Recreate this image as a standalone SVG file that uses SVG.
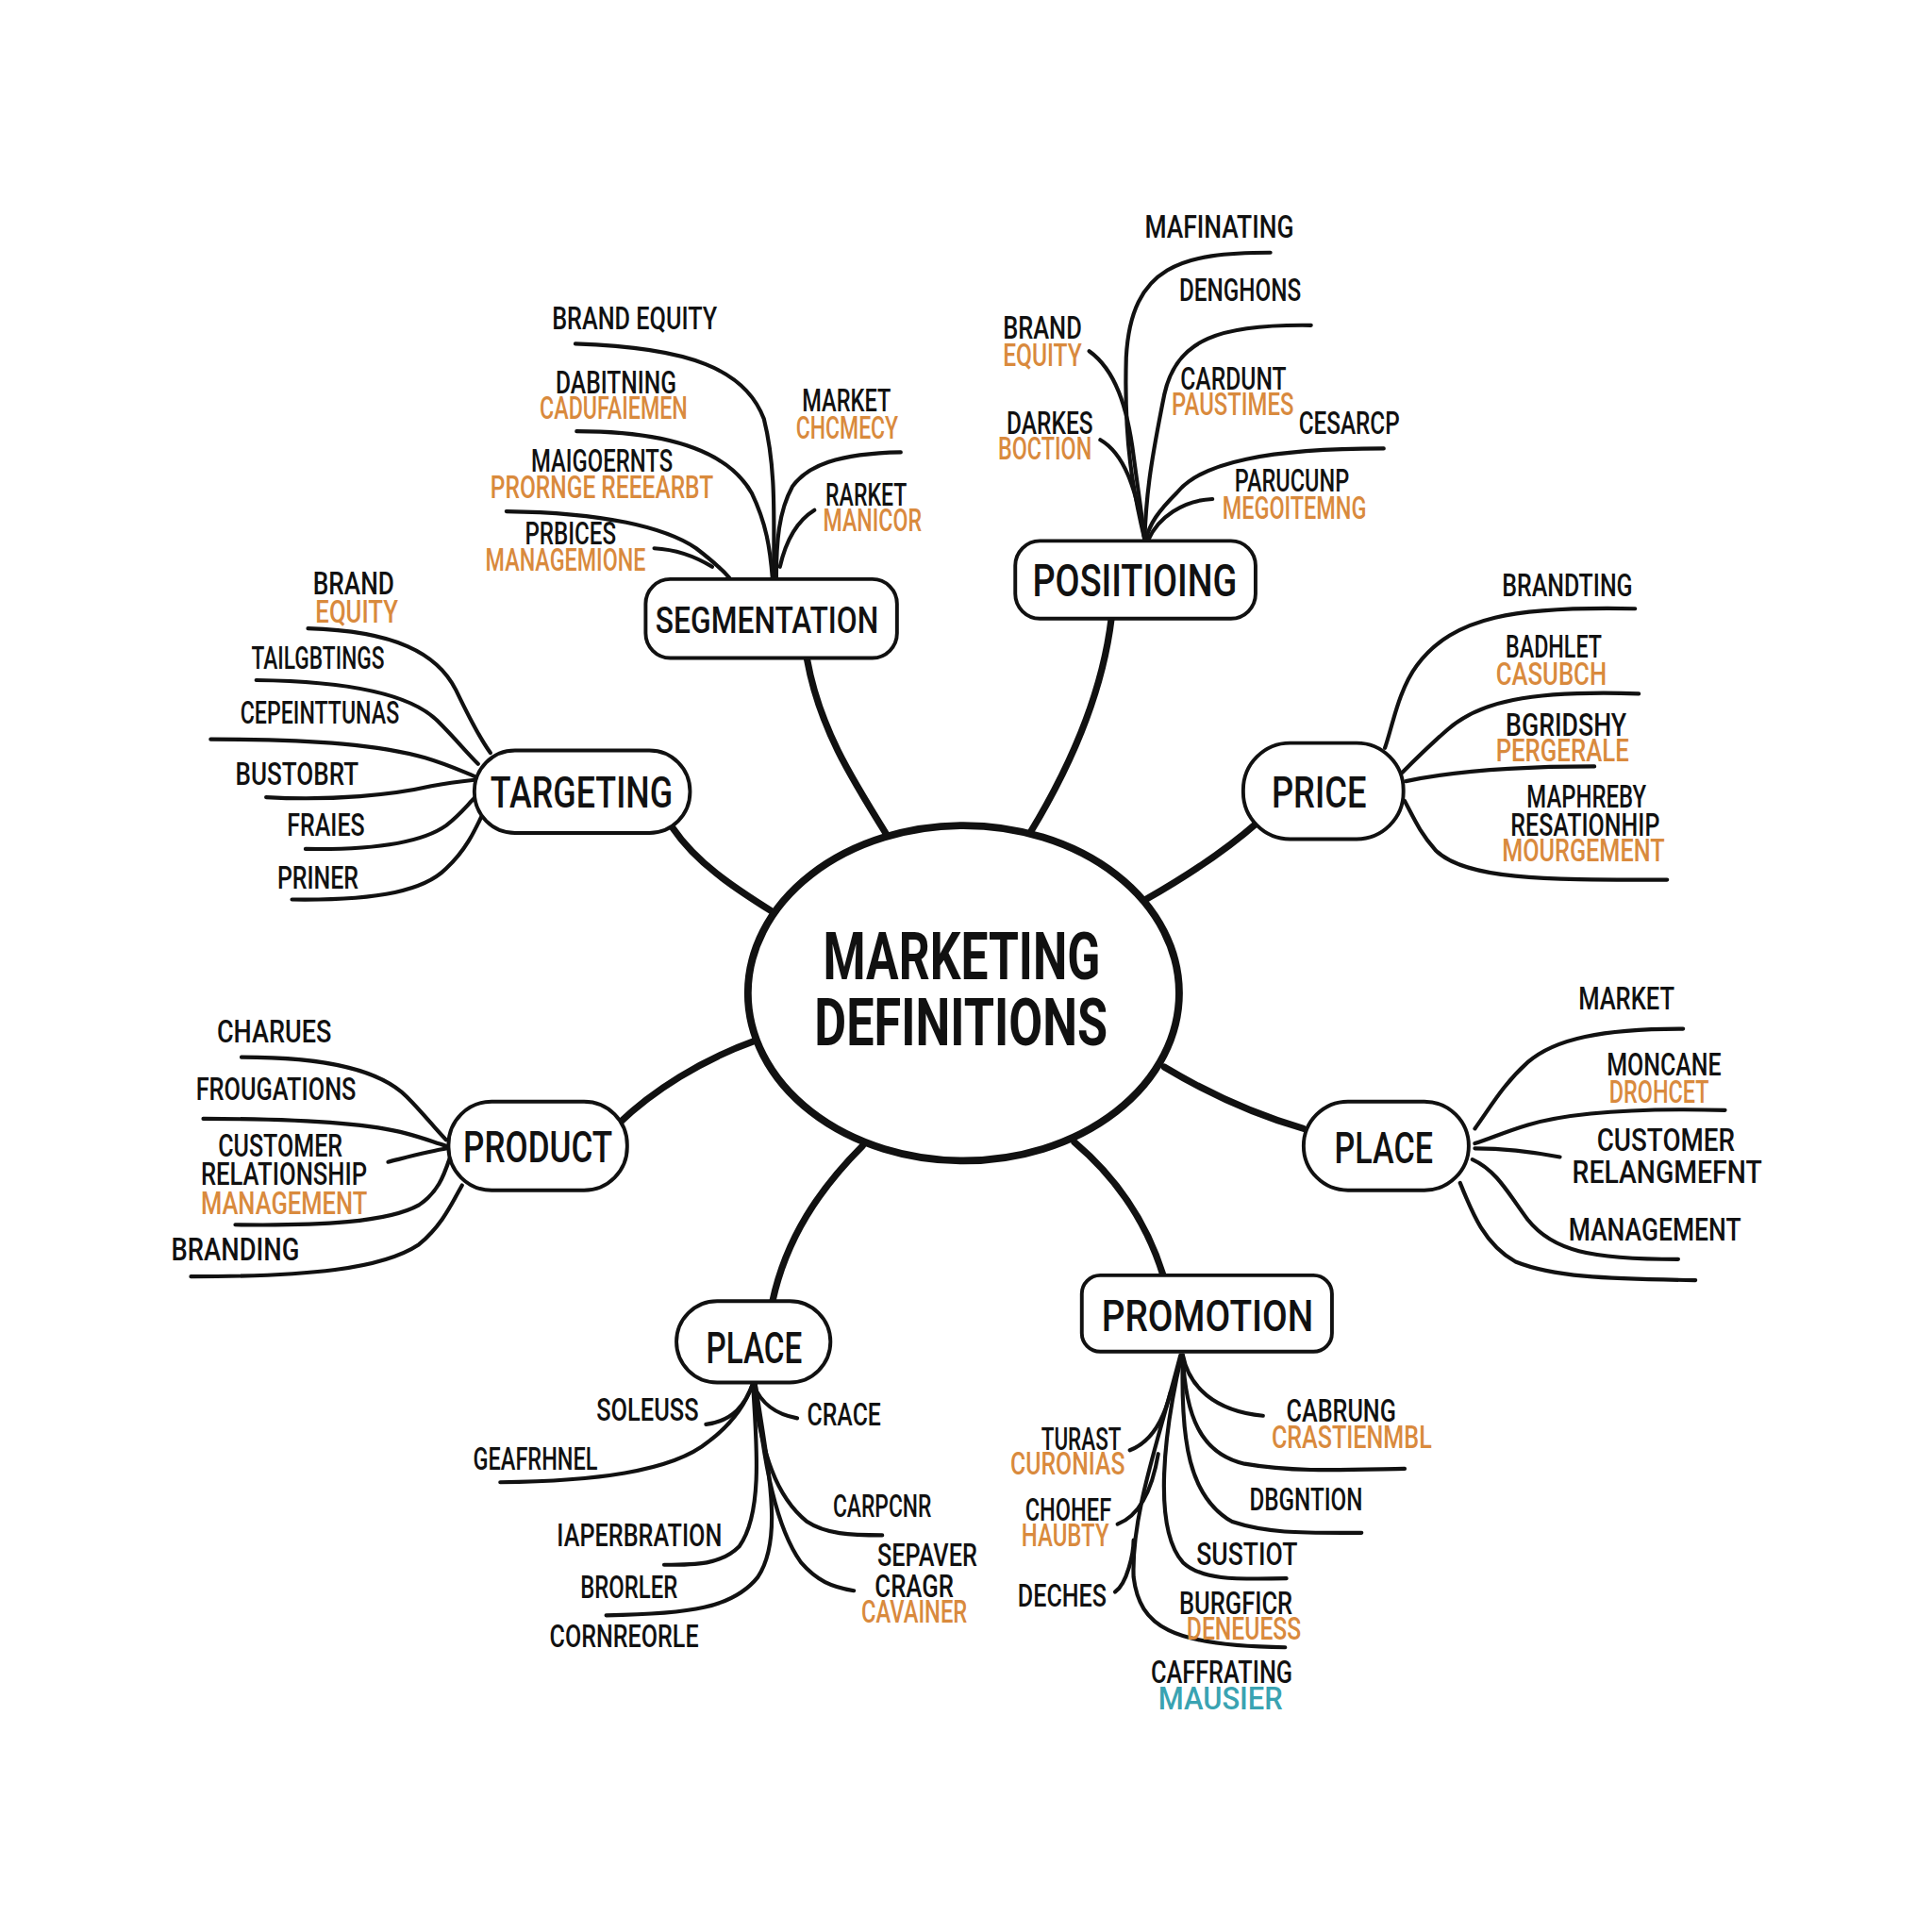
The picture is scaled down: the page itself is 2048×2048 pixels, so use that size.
<svg xmlns="http://www.w3.org/2000/svg" width="2048" height="2048" viewBox="0 0 2048 2048">
<style>
.t{font-family:Roboto,"Liberation Sans",sans-serif;font-weight:500;font-size:25px;fill:#111}
.o{fill:#D98A3D}
.c{fill:#3AA3B2}
.n{font-size:36px}
.m{font-size:54px;font-weight:700}
.b{fill:none;stroke:#111;stroke-width:3.2;stroke-linecap:round}
.k{fill:none;stroke:#111;stroke-width:5.5;stroke-linecap:round}
.box{fill:#fff;stroke:#111;stroke-width:3}
</style>
<rect width="2048" height="2048" fill="#fff"/>
<g transform="scale(1.30612)">
<g id="connectors">
<path class="k" d="M720,678 C690,630 665,590 655,535"/>
<path class="k" d="M836,676 C870,620 895,560 902,502"/>
<path class="k" d="M930,730 C965,710 995,690 1020,668"/>
<path class="k" d="M627,740 C595,720 565,700 546,672"/>
<path class="k" d="M612,845 C570,860 530,885 502,912"/>
<path class="k" d="M945,866 C985,890 1020,905 1058,916"/>
<path class="k" d="M872,927 C905,955 930,990 944,1035"/>
<path class="k" d="M700,930 C665,965 638,1005 627,1056"/>
<!-- segmentation -->
<path class="b" d="M467,279 C560,282 605,300 620,340 C630,380 628,420 628,470"/>
<path class="b" d="M468,350 C540,350 590,365 610,400 C622,425 625,445 627,470"/>
<path class="b" d="M411,415 C490,416 540,428 565,445 C578,455 586,462 592,469"/>
<path class="b" d="M531,445 C550,446 565,452 578,460"/>
<path class="b" d="M731,367 C680,368 655,378 643,395 C632,415 630,440 630,470"/>
<path class="b" d="M661,414 C648,422 638,438 633,460"/>
<!-- positioning -->
<path class="b" d="M1031,205 C960,205 918,215 914,290 C912,360 920,400 929,438"/>
<path class="b" d="M1064,264 C990,263 955,275 945,320 C935,370 930,400 929,438"/>
<path class="b" d="M1123,364 C1030,364 975,375 955,400 C940,415 933,425 930,438"/>
<path class="b" d="M984,405 C960,406 940,420 932,438"/>
<path class="b" d="M884,285 C905,300 915,330 920,370 C924,400 927,420 929,438"/>
<path class="b" d="M893,357 C912,368 922,395 929,438"/>
<!-- price -->
<path class="b" d="M1327,494 C1230,492 1180,500 1150,540 C1135,560 1130,590 1124,607"/>
<path class="b" d="M1330,563 C1240,560 1200,570 1175,592 C1160,605 1150,615 1138,627"/>
<path class="b" d="M1294,622 C1220,622 1170,628 1141,634"/>
<path class="b" d="M1353,714 C1260,714 1190,715 1165,690 C1152,675 1148,665 1140,650"/>
<!-- place right -->
<path class="b" d="M1366,835 C1300,835 1262,843 1240,862 C1220,880 1210,898 1197,916"/>
<path class="b" d="M1400,901 C1320,899 1270,904 1240,913 C1220,919 1210,924 1197,928"/>
<path class="b" d="M1197,932 C1225,932 1245,935 1266,939"/>
<path class="b" d="M1195,941 C1215,950 1225,970 1240,990 C1260,1015 1290,1022 1362,1022"/>
<path class="b" d="M1185,960 C1195,985 1205,1010 1230,1024 C1260,1036 1300,1038 1376,1039"/>
<!-- promotion -->
<path class="b" d="M960,1100 C965,1125 985,1145 1025,1149"/>
<path class="b" d="M960,1100 C962,1150 975,1180 1010,1188 C1050,1195 1090,1193 1140,1192"/>
<path class="b" d="M960,1100 C958,1170 965,1215 1000,1235 C1030,1245 1060,1244 1105,1244"/>
<path class="b" d="M959,1100 C945,1160 935,1240 960,1268 C975,1282 1000,1282 1044,1281"/>
<path class="b" d="M958,1100 C940,1170 918,1230 920,1280 C925,1320 950,1336 1043,1337"/>
<path class="b" d="M917,1177 C935,1170 945,1150 950,1130"/>
<path class="b" d="M907,1237 C925,1230 935,1210 940,1180"/>
<path class="b" d="M905,1292 C915,1285 920,1260 920,1250"/>
<!-- place bottom -->
<path class="b" d="M573,1156 C595,1153 605,1140 611,1123"/>
<path class="b" d="M406,1203 C480,1202 545,1195 575,1170 C595,1155 605,1140 611,1123"/>
<path class="b" d="M611,1123 C618,1140 630,1148 647,1151"/>
<path class="b" d="M611,1123 C615,1180 618,1230 600,1255 C585,1270 565,1270 539,1270"/>
<path class="b" d="M611,1123 C618,1180 630,1215 655,1235 C670,1245 690,1246 716,1246"/>
<path class="b" d="M613,1123 C620,1190 630,1240 650,1268 C663,1283 675,1288 693,1291"/>
<path class="b" d="M613,1123 C625,1200 635,1250 615,1280 C595,1305 560,1310 492,1311"/>
<!-- product -->
<path class="b" d="M196,858 C270,858 310,870 330,890 C345,905 352,915 362,925"/>
<path class="b" d="M165,908 C240,908 300,912 330,920 C345,924 352,927 362,930"/>
<path class="b" d="M315,943 C335,938 350,934 363,932"/>
<path class="b" d="M191,994 C260,995 315,992 340,978 C355,968 360,955 365,940"/>
<path class="b" d="M155,1036 C250,1036 310,1030 340,1010 C358,995 365,980 375,962"/>
<!-- targeting -->
<path class="b" d="M250,510 C320,512 355,530 370,560 C382,585 390,600 398,611"/>
<path class="b" d="M208,552 C290,553 335,565 355,585 C370,600 378,610 388,620"/>
<path class="b" d="M171,600 C260,600 310,605 345,615 C365,621 375,626 385,630"/>
<path class="b" d="M216,647 C270,650 320,645 350,638 C365,635 375,634 385,633"/>
<path class="b" d="M248,689 C310,690 345,682 362,670 C375,660 380,652 388,645"/>
<path class="b" d="M237,730 C310,731 345,722 362,705 C378,690 385,675 392,660"/>
</g>

<g id="center">
<ellipse cx="782" cy="806" rx="175" ry="136" fill="#fff" stroke="#111" stroke-width="6"/>
<text class="t m" x="668" y="795" textLength="225" lengthAdjust="spacingAndGlyphs">MARKETING</text>
<text class="t m" x="661" y="848" textLength="238" lengthAdjust="spacingAndGlyphs">DEFINITIONS</text>
</g>

<g id="segmentation">
<rect class="box" x="524" y="470" width="204" height="64" rx="20"/>
<text class="t n" style="font-size:30px" x="532" y="514" textLength="181" lengthAdjust="spacingAndGlyphs">SEGMENTATION</text>
<text class="t" x="448" y="267" textLength="134" lengthAdjust="spacingAndGlyphs">BRAND EQUITY</text>
<text class="t" x="451" y="319" textLength="98" lengthAdjust="spacingAndGlyphs">DABITNING</text>
<text class="t o" x="438" y="340" textLength="120" lengthAdjust="spacingAndGlyphs">CADUFAIEMEN</text>
<text class="t" x="431" y="383" textLength="115" lengthAdjust="spacingAndGlyphs">MAIGOERNTS</text>
<text class="t o" x="398" y="404" textLength="181" lengthAdjust="spacingAndGlyphs">PRORNGE REEEARBT</text>
<text class="t" x="426" y="442" textLength="74" lengthAdjust="spacingAndGlyphs">PRBICES</text>
<text class="t o" x="394" y="463" textLength="130" lengthAdjust="spacingAndGlyphs">MANAGEMIONE</text>
<text class="t" x="651" y="334" textLength="72" lengthAdjust="spacingAndGlyphs">MARKET</text>
<text class="t o" x="646" y="356" textLength="83" lengthAdjust="spacingAndGlyphs">CHCMECY</text>
<text class="t" x="670" y="410" textLength="66" lengthAdjust="spacingAndGlyphs">RARKET</text>
<text class="t o" x="668" y="431" textLength="80" lengthAdjust="spacingAndGlyphs">MANICOR</text>
</g>

<g id="positioning">
<rect class="box" x="824" y="439" width="195" height="63" rx="20"/>
<text class="t n" style="font-size:37px" x="838" y="484" textLength="166" lengthAdjust="spacingAndGlyphs">POSIITIOING</text>
<text class="t" x="929" y="193" textLength="121" lengthAdjust="spacingAndGlyphs">MAFINATING</text>
<text class="t" x="957" y="244" textLength="99" lengthAdjust="spacingAndGlyphs">DENGHONS</text>
<text class="t" x="814" y="275" textLength="64" lengthAdjust="spacingAndGlyphs">BRAND</text>
<text class="t o" x="814" y="297" textLength="64" lengthAdjust="spacingAndGlyphs">EQUITY</text>
<text class="t" x="958" y="316" textLength="86" lengthAdjust="spacingAndGlyphs">CARDUNT</text>
<text class="t o" x="951" y="337" textLength="99" lengthAdjust="spacingAndGlyphs">PAUSTIMES</text>
<text class="t" x="1054" y="352" textLength="82" lengthAdjust="spacingAndGlyphs">CESARCP</text>
<text class="t" x="817" y="352" textLength="70" lengthAdjust="spacingAndGlyphs">DARKES</text>
<text class="t o" x="810" y="373" textLength="76" lengthAdjust="spacingAndGlyphs">BOCTION</text>
<text class="t" x="1002" y="399" textLength="93" lengthAdjust="spacingAndGlyphs">PARUCUNP</text>
<text class="t o" x="992" y="421" textLength="117" lengthAdjust="spacingAndGlyphs">MEGOITEMNG</text>
</g>

<g id="price">
<rect class="box" x="1009" y="603" width="130" height="78" rx="38"/>
<text class="t n" x="1032" y="655" textLength="77" lengthAdjust="spacingAndGlyphs">PRICE</text>
<text class="t" x="1219" y="484" textLength="106" lengthAdjust="spacingAndGlyphs">BRANDTING</text>
<text class="t" x="1222" y="534" textLength="78" lengthAdjust="spacingAndGlyphs">BADHLET</text>
<text class="t o" x="1214" y="556" textLength="90" lengthAdjust="spacingAndGlyphs">CASUBCH</text>
<text class="t" x="1222" y="597" textLength="98" lengthAdjust="spacingAndGlyphs">BGRIDSHY</text>
<text class="t o" x="1214" y="618" textLength="108" lengthAdjust="spacingAndGlyphs">PERGERALE</text>
<text class="t" x="1239" y="655" textLength="97" lengthAdjust="spacingAndGlyphs">MAPHREBY</text>
<text class="t" x="1226" y="678" textLength="121" lengthAdjust="spacingAndGlyphs">RESATIONHIP</text>
<text class="t o" x="1219" y="699" textLength="132" lengthAdjust="spacingAndGlyphs">MOURGEMENT</text>
</g>

<g id="place-right">
<rect class="box" x="1058" y="894" width="134" height="72" rx="36"/>
<text class="t n" x="1083" y="944" textLength="80" lengthAdjust="spacingAndGlyphs">PLACE</text>
<text class="t" x="1281" y="819" textLength="78" lengthAdjust="spacingAndGlyphs">MARKET</text>
<text class="t" x="1304" y="873" textLength="93" lengthAdjust="spacingAndGlyphs">MONCANE</text>
<text class="t o" x="1306" y="895" textLength="81" lengthAdjust="spacingAndGlyphs">DROHCET</text>
<text class="t" x="1296" y="934" textLength="112" lengthAdjust="spacingAndGlyphs">CUSTOMER</text>
<text class="t" x="1276" y="960" textLength="154" lengthAdjust="spacingAndGlyphs">RELANGMEFNT</text>
<text class="t" x="1273" y="1007" textLength="140" lengthAdjust="spacingAndGlyphs">MANAGEMENT</text>
</g>

<g id="promotion">
<rect class="box" x="878" y="1035" width="203" height="62" rx="15"/>
<text class="t n" x="894" y="1080" textLength="172" lengthAdjust="spacingAndGlyphs">PROMOTION</text>
<text class="t" x="1044" y="1154" textLength="89" lengthAdjust="spacingAndGlyphs">CABRUNG</text>
<text class="t o" x="1032" y="1175" textLength="130" lengthAdjust="spacingAndGlyphs">CRASTIENMBL</text>
<text class="t" x="845" y="1177" textLength="65" lengthAdjust="spacingAndGlyphs">TURAST</text>
<text class="t o" x="820" y="1197" textLength="93" lengthAdjust="spacingAndGlyphs">CURONIAS</text>
<text class="t" x="1014" y="1226" textLength="92" lengthAdjust="spacingAndGlyphs">DBGNTION</text>
<text class="t" x="832" y="1234" textLength="70" lengthAdjust="spacingAndGlyphs">CHOHEF</text>
<text class="t o" x="829" y="1255" textLength="71" lengthAdjust="spacingAndGlyphs">HAUBTY</text>
<text class="t" x="971" y="1270" textLength="82" lengthAdjust="spacingAndGlyphs">SUSTIOT</text>
<text class="t" x="826" y="1304" textLength="72" lengthAdjust="spacingAndGlyphs">DECHES</text>
<text class="t" x="957" y="1310" textLength="92" lengthAdjust="spacingAndGlyphs">BURGFICR</text>
<text class="t o" x="963" y="1331" textLength="93" lengthAdjust="spacingAndGlyphs">DENEUESS</text>
<text class="t" x="934" y="1366" textLength="115" lengthAdjust="spacingAndGlyphs">CAFFRATING</text>
<text class="t c" x="940" y="1387" textLength="101" lengthAdjust="spacingAndGlyphs">MAUSIER</text>
</g>

<g id="place-bottom">
<rect class="box" x="549" y="1056" width="125" height="66" rx="33"/>
<text class="t n" x="573" y="1106" textLength="78" lengthAdjust="spacingAndGlyphs">PLACE</text>
<text class="t" x="484" y="1153" textLength="83" lengthAdjust="spacingAndGlyphs">SOLEUSS</text>
<text class="t" x="655" y="1157" textLength="60" lengthAdjust="spacingAndGlyphs">CRACE</text>
<text class="t" x="384" y="1193" textLength="101" lengthAdjust="spacingAndGlyphs">GEAFRHNEL</text>
<text class="t" x="676" y="1231" textLength="80" lengthAdjust="spacingAndGlyphs">CARPCNR</text>
<text class="t" x="452" y="1255" textLength="134" lengthAdjust="spacingAndGlyphs">IAPERBRATION</text>
<text class="t" x="712" y="1271" textLength="81" lengthAdjust="spacingAndGlyphs">SEPAVER</text>
<text class="t" x="710" y="1296" textLength="64" lengthAdjust="spacingAndGlyphs">CRAGR</text>
<text class="t o" x="699" y="1317" textLength="86" lengthAdjust="spacingAndGlyphs">CAVAINER</text>
<text class="t" x="471" y="1297" textLength="79" lengthAdjust="spacingAndGlyphs">BRORLER</text>
<text class="t" x="446" y="1337" textLength="121" lengthAdjust="spacingAndGlyphs">CORNREORLE</text>
</g>

<g id="product">
<rect class="box" x="364" y="894" width="145" height="72" rx="35"/>
<text class="t n" x="376" y="943" textLength="121" lengthAdjust="spacingAndGlyphs">PRODUCT</text>
<text class="t" x="176" y="846" textLength="93" lengthAdjust="spacingAndGlyphs">CHARUES</text>
<text class="t" x="159" y="893" textLength="130" lengthAdjust="spacingAndGlyphs">FROUGATIONS</text>
<text class="t" x="177" y="939" textLength="101" lengthAdjust="spacingAndGlyphs">CUSTOMER</text>
<text class="t" x="163" y="962" textLength="135" lengthAdjust="spacingAndGlyphs">RELATIONSHIP</text>
<text class="t o" x="163" y="985" textLength="135" lengthAdjust="spacingAndGlyphs">MANAGEMENT</text>
<text class="t" x="139" y="1023" textLength="104" lengthAdjust="spacingAndGlyphs">BRANDING</text>
</g>

<g id="targeting">
<rect class="box" x="385" y="609" width="175" height="67" rx="33"/>
<text class="t n" x="398" y="655" textLength="148" lengthAdjust="spacingAndGlyphs">TARGETING</text>
<text class="t" x="254" y="482" textLength="66" lengthAdjust="spacingAndGlyphs">BRAND</text>
<text class="t o" x="256" y="505" textLength="67" lengthAdjust="spacingAndGlyphs">EQUITY</text>
<text class="t" x="204" y="543" textLength="108" lengthAdjust="spacingAndGlyphs">TAILGBTINGS</text>
<text class="t" x="195" y="587" textLength="129" lengthAdjust="spacingAndGlyphs">CEPEINTTUNAS</text>
<text class="t" x="191" y="637" textLength="100" lengthAdjust="spacingAndGlyphs">BUSTOBRT</text>
<text class="t" x="233" y="678" textLength="63" lengthAdjust="spacingAndGlyphs">FRAIES</text>
<text class="t" x="225" y="721" textLength="66" lengthAdjust="spacingAndGlyphs">PRINER</text>
</g>
</g>
</svg>
